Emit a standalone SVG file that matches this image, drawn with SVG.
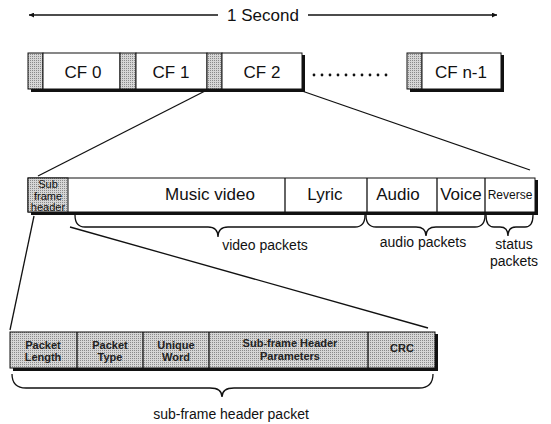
<svg xmlns="http://www.w3.org/2000/svg" width="551" height="424" viewBox="0 0 551 424">
<defs>
<pattern id="dither" width="2" height="2" patternUnits="userSpaceOnUse">
<rect width="2" height="2" fill="#d6d6d6"/>
<rect width="1" height="1" fill="#8a8a8a"/>
</pattern>
<marker id="arr" viewBox="0 0 10 10" refX="10" refY="5" markerWidth="7" markerHeight="5" orient="auto-start-reverse" markerUnits="userSpaceOnUse">
<path d="M0,0 L10,5 L0,10 z" fill="#111"/>
</marker>
<style>
text{font-family:"Liberation Sans",Arial,sans-serif;fill:#111}
.box{fill:#fff;stroke:#111;stroke-width:1}
.hdr{fill:url(#dither);stroke:#111;stroke-width:1}
.shadow{fill:none;stroke:#111;stroke-width:3}
.ln{fill:none;stroke:#111;stroke-width:1.3}
.brace{fill:none;stroke:#111;stroke-width:1.3}
.big{font-size:17px;text-anchor:middle}
.mid{font-size:14px;text-anchor:middle}
.sm{font-size:11px;text-anchor:middle}
.bd{font-size:11px;font-weight:bold;text-anchor:middle;fill:#222}
</style>
</defs>

<g id="second-arrow">
<line class="ln" x1="29" y1="15" x2="218" y2="15" marker-start="url(#arr)"/>
<line class="ln" x1="308" y1="15" x2="497" y2="15" marker-end="url(#arr)"/>
<text x="263" y="21" class="big">1 Second</text>
</g>

<g id="cf0">
<rect class="hdr" x="28" y="53" width="15" height="36"/>
<rect class="box" x="43" y="53" width="77" height="36"/>
<text x="83" y="78" class="big">CF 0</text>
</g>
<g id="cf1">
<rect class="hdr" x="120" y="53" width="16" height="36"/>
<rect class="box" x="136" y="53" width="71" height="36"/>
<text x="171" y="78" class="big">CF 1</text>
</g>
<g id="cf2">
<rect class="hdr" x="207" y="53" width="15" height="36"/>
<rect class="box" x="222" y="53" width="80" height="36"/>
<text x="262" y="78" class="big">CF 2</text>
</g>
<path class="shadow" d="M31,90.5 H303.5 V55"/>
<g id="dots" fill="#111">
<circle cx="314" cy="75" r="1.4"/><circle cx="322" cy="75" r="1.4"/><circle cx="330" cy="75" r="1.4"/><circle cx="338" cy="75" r="1.4"/><circle cx="346" cy="75" r="1.4"/><circle cx="354" cy="75" r="1.4"/><circle cx="362" cy="75" r="1.4"/><circle cx="370" cy="75" r="1.4"/><circle cx="378" cy="75" r="1.4"/><circle cx="386" cy="75" r="1.4"/>
</g>
<g id="cfn1">
<rect class="hdr" x="407" y="53" width="15" height="36"/>
<rect class="box" x="422" y="53" width="79" height="36"/>
<text x="461" y="78" class="big">CF n-1</text>
<path class="shadow" d="M410,90.5 H502.5 V55"/>
</g>

<g id="subframe">
<rect class="box" x="28" y="178" width="507" height="34"/>
<rect class="hdr" x="28" y="178" width="40" height="34"/>
<line class="ln" x1="285" y1="178" x2="285" y2="212"/>
<line class="ln" x1="367" y1="178" x2="367" y2="212"/>
<line class="ln" x1="437" y1="178" x2="437" y2="212"/>
<line class="ln" x1="485" y1="178" x2="485" y2="212"/>
<path class="shadow" d="M31,213.5 H536.5 V180"/>
<text x="48" y="188" class="sm">Sub</text>
<text x="48" y="200" class="sm">frame</text>
<text x="48" y="211" class="sm">header</text>
<text x="210" y="200" class="big">Music video</text>
<text x="325" y="200" class="big">Lyric</text>
<text x="398" y="200" class="big">Audio</text>
<text x="461" y="200" class="big">Voice</text>
<text x="510" y="199" font-size="12" text-anchor="middle">Reverse</text>
</g>

<g id="header-packet">
<rect class="hdr" x="10" y="332" width="425" height="36"/>
<line class="ln" x1="77" y1="332" x2="77" y2="368"/>
<line class="ln" x1="143" y1="332" x2="143" y2="368"/>
<line class="ln" x1="209" y1="332" x2="209" y2="368"/>
<line class="ln" x1="368" y1="332" x2="368" y2="368"/>
<path class="shadow" d="M13,369.5 H436.5 V334"/>
<text x="43" y="349" class="bd">Packet</text>
<text x="43" y="361" class="bd">Length</text>
<text x="110" y="349" class="bd">Packet</text>
<text x="110" y="361" class="bd">Type</text>
<text x="176" y="349" class="bd">Unique</text>
<text x="176" y="361" class="bd">Word</text>
<text x="290" y="347" class="bd">Sub-frame Header</text>
<text x="290" y="360" class="bd">Parameters</text>
<text x="402" y="352" class="bd">CRC</text>
</g>

<g id="connectors">
<line class="ln" x1="207" y1="90" x2="38" y2="176"/>
<line class="ln" x1="302" y1="91" x2="530" y2="170"/>
<line class="ln" x1="34" y1="216" x2="10" y2="330"/>
<line class="ln" x1="70" y1="227" x2="428" y2="328"/>
<path class="brace" d="M75,215 Q75,227 85,227 L208,227 Q218,227 218,237 Q218,227 228,227 L355,227 Q365,227 365,215"/>
<path class="brace" d="M366,215 Q366,227 376,227 L416,227 Q426,227 426,236 Q426,227 436,227 L475,227 Q485,227 485,215"/>
<path class="brace" d="M486,215 Q486,227 494,227 L500,227 Q508,227 508,236 Q508,227 516,227 L525,227 Q533,227 533,215"/>
<path class="brace" d="M12,374 Q12,388 26,388 L210,388 Q222,388 222,397 Q222,388 234,388 L419,388 Q433,388 433,374"/>
</g>

<g id="labels">
<text x="265" y="250" class="mid">video packets</text>
<text x="423" y="247" class="mid">audio packets</text>
<text x="514" y="249" class="mid">status</text>
<text x="514" y="266" class="mid">packets</text>
<text x="231" y="419" class="mid">sub-frame header packet</text>
</g>
</svg>
